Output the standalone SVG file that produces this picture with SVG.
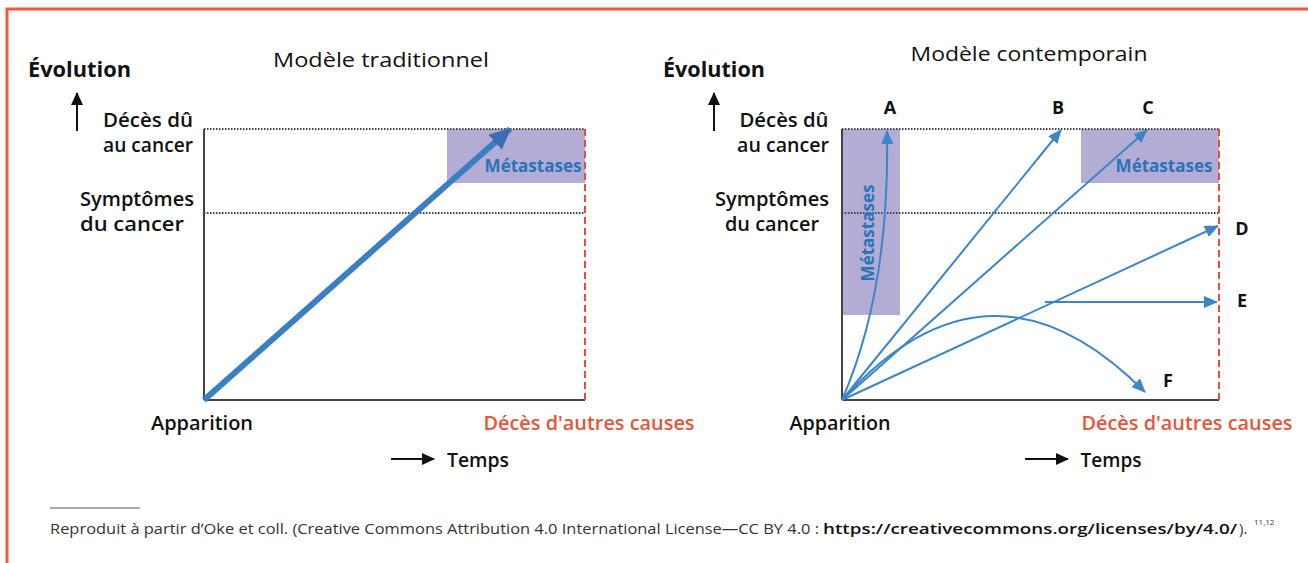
<svg xmlns="http://www.w3.org/2000/svg" width="1308" height="563" viewBox="0 0 1308 563">
<style>
  text { font-family: "Open Sans", "Noto Sans", "Liberation Sans", sans-serif; fill: #111; }
  .lbl { font-size: 20px; font-weight: 600; text-anchor: middle; }
  .ttl { font-size: 20px; font-weight: 500; text-anchor: middle; }
  .evo { font-size: 21px; font-weight: 700; }
  .red { fill: #e8553a; font-size: 19px; font-weight: 600; text-anchor: middle; }
  .meta { fill: #2a73ba; font-size: 17px; font-weight: 700; text-anchor: middle; }
  .let { font-size: 18px; font-weight: 700; text-anchor: middle; }
  .foot { font-size: 15px; fill: #333; }
  .axis { stroke: #444; stroke-width: 2; fill: none; }
  .dot { stroke: #444; stroke-width: 2; stroke-dasharray: 1.5 1.5; fill: none; }
  .rdash { stroke: #e84a3f; stroke-width: 2; stroke-dasharray: 7 4; fill: none; }
  .box { fill: #b3acd4; }
  .thin { stroke: #3a86c8; stroke-width: 2; fill: none; marker-end: url(#ah); }
  .blk { stroke: #111; stroke-width: 2; fill: none; marker-end: url(#bk); }
</style>
<defs>
  <marker id="ah" markerUnits="userSpaceOnUse" markerWidth="14" markerHeight="12" refX="13" refY="6" orient="auto">
    <path d="M0,0 L14,6 L0,12 Z" fill="#3a86c8"/>
  </marker>
  <marker id="big" markerUnits="userSpaceOnUse" markerWidth="22" markerHeight="20" refX="20" refY="10" orient="auto">
    <path d="M0,0 L22,10 L0,20 Z" fill="#3a6db5"/>
  </marker>
  <marker id="bk" markerUnits="userSpaceOnUse" markerWidth="13" markerHeight="12" refX="12" refY="6" orient="auto">
    <path d="M0,0 L13,6 L0,12 Z" fill="#111"/>
  </marker>
</defs>

<path d="M7,563 V9 H1308" stroke="#ec5a3b" stroke-width="3" fill="none"/>

<g id="left-chart">
  <rect class="box" x="447" y="129" width="138" height="54"/>
  <line class="dot" x1="204" y1="129" x2="585" y2="129"/>
  <line class="dot" x1="204" y1="213" x2="585" y2="213"/>
  <line class="axis" x1="204" y1="129" x2="204" y2="400"/>
  <line class="axis" x1="204" y1="400" x2="585" y2="400"/>
  <line class="rdash" x1="585" y1="129" x2="585" y2="400"/>
  <text class="meta" x="533" y="172">Métastases</text>
  <text class="ttl" x="381" y="67" textLength="216" lengthAdjust="spacingAndGlyphs">Modèle traditionnel</text>
  <text class="evo" x="28" y="77" textLength="103" lengthAdjust="spacingAndGlyphs">Évolution</text>
  <text class="lbl" x="148" y="127" textLength="90" lengthAdjust="spacingAndGlyphs">Décès dû</text>
  <text class="lbl" x="148" y="152" textLength="90" lengthAdjust="spacingAndGlyphs">au cancer</text>
  <text class="lbl" x="137" y="206" textLength="114" lengthAdjust="spacingAndGlyphs">Symptômes</text>
  <text class="lbl" x="132" y="231" textLength="104" lengthAdjust="spacingAndGlyphs">du cancer</text>
  <text class="lbl" x="202" y="430" textLength="102" lengthAdjust="spacingAndGlyphs">Apparition</text>
  <text class="red" x="589" y="430" textLength="211" lengthAdjust="spacingAndGlyphs">Décès d'autres causes</text>
  <text class="lbl" x="478" y="467" textLength="62" lengthAdjust="spacingAndGlyphs">Temps</text>
</g>

<g id="right-chart">
  <rect class="box" x="842" y="129" width="58" height="186"/>
  <rect class="box" x="1081" y="129" width="138" height="54"/>
  <line class="dot" x1="842" y1="129" x2="1219" y2="129"/>
  <line class="dot" x1="842" y1="213" x2="1219" y2="213"/>
  <line class="axis" x1="842" y1="129" x2="842" y2="400"/>
  <line class="axis" x1="842" y1="400" x2="1219" y2="400"/>
  <line class="rdash" x1="1219" y1="129" x2="1219" y2="400"/>
  <text class="meta" x="1164" y="172">Métastases</text>
  <text class="meta" transform="translate(874,233) rotate(-90)">Métastases</text>
  <text class="ttl" x="1029" y="61" textLength="237" lengthAdjust="spacingAndGlyphs">Modèle contemporain</text>
  <text class="evo" x="663" y="77" textLength="102" lengthAdjust="spacingAndGlyphs">Évolution</text>
  <text class="lbl" x="784" y="127" textLength="89" lengthAdjust="spacingAndGlyphs">Décès dû</text>
  <text class="lbl" x="783" y="152" textLength="92" lengthAdjust="spacingAndGlyphs">au cancer</text>
  <text class="lbl" x="772" y="206" textLength="114" lengthAdjust="spacingAndGlyphs">Symptômes</text>
  <text class="lbl" x="772" y="231" textLength="94" lengthAdjust="spacingAndGlyphs">du cancer</text>
  <text class="lbl" x="840" y="430" textLength="101" lengthAdjust="spacingAndGlyphs">Apparition</text>
  <text class="red" x="1187" y="430" textLength="211" lengthAdjust="spacingAndGlyphs">Décès d'autres causes</text>
  <text class="lbl" x="1111" y="467" textLength="61" lengthAdjust="spacingAndGlyphs">Temps</text>
  <text class="let" x="890" y="114">A</text>
  <text class="let" x="1058" y="114">B</text>
  <text class="let" x="1148" y="114">C</text>
  <text class="let" x="1242" y="235">D</text>
  <text class="let" x="1242" y="307">E</text>
  <text class="let" x="1168" y="387">F</text>
</g>

<g id="connectors">
  <line x1="204" y1="400" x2="510" y2="129" stroke="#3a7fc3" stroke-width="6" marker-end="url(#big)"/>
  <line class="blk" x1="77" y1="131" x2="77" y2="93"/>
  <line class="blk" x1="714" y1="131" x2="714" y2="93"/>
  <line class="blk" x1="391" y1="459" x2="434" y2="459"/>
  <line class="blk" x1="1025" y1="459" x2="1068" y2="459"/>
  <path class="thin" d="M842,400 Q890,290 887,131"/>
  <line class="thin" x1="842" y1="400" x2="1061" y2="130"/>
  <line class="thin" x1="842" y1="400" x2="1147" y2="130"/>
  <line class="thin" x1="842" y1="400" x2="1218" y2="226"/>
  <line class="thin" x1="1045" y1="302" x2="1217" y2="302"/>
  <path class="thin" d="M842,400 Q990,236 1145,392"/>
</g>

<g id="footnote">
  <line x1="50" y1="508" x2="140" y2="508" stroke="#555" stroke-width="1"/>
  <text class="foot" x="50" y="534" textLength="769" lengthAdjust="spacingAndGlyphs">Reproduit à partir d’Oke et coll. (Creative Commons Attribution 4.0 International License—CC BY 4.0 :</text>
  <text class="foot" x="823" y="534" font-weight="600" style="fill:#111" textLength="414" lengthAdjust="spacingAndGlyphs">https://creativecommons.org/licenses/by/4.0/</text>
  <text class="foot" x="1239" y="534">).</text>
  <text class="foot" x="1254" y="525" style="font-size:8px">11,12</text>
</g>
</svg>
